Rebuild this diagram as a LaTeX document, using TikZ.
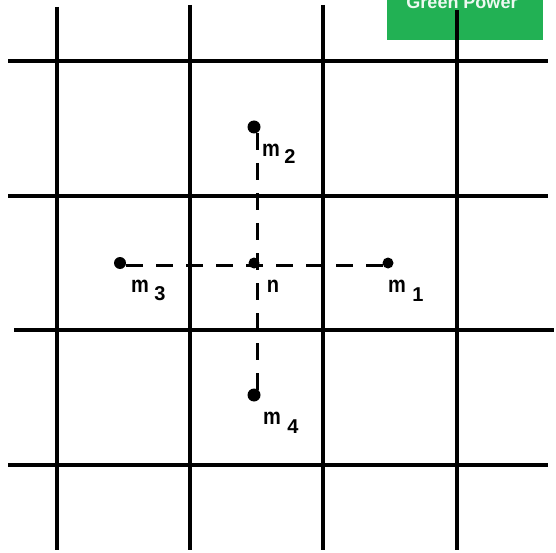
\documentclass[tikz,border=0pt]{standalone}
\usepackage{fontspec}
\setmainfont{Liberation Sans}
\definecolor{gp}{RGB}{34,177,84}
\begin{document}
\begin{tikzpicture}[x=1pt,y=-1pt,
  grid/.style={line width=3.6pt},
  dashline/.style={line width=3pt,dash pattern=on 17pt off 13pt},
  pt/.style={circle,fill=black,inner sep=0pt,minimum size=#1},
  lbl/.style={inner sep=0pt,font=\fontsize{20}{20}\selectfont\bfseries},
  sub/.style={inner sep=0pt,font=\fontsize{20}{20}\selectfont\bfseries}]
\useasboundingbox (0,0) rectangle (556,553);
% banner
\fill[gp] (387,0) rectangle (543,40);
\node[inner sep=0pt,text=white!92!gp,font=\fontsize{18}{18}\selectfont\bfseries] (banner) at (462,2) {Green Power};
% grid
\coordinate (v1t) at (57,7);   \coordinate (v1b) at (57,550);
\coordinate (v2t) at (190,5);  \coordinate (v2b) at (190,550);
\coordinate (v3t) at (323,5);  \coordinate (v3b) at (323,550);
\coordinate (v4t) at (457,10); \coordinate (v4b) at (457,550);
\coordinate (h1l) at (8,61);   \coordinate (h1r) at (548,61);
\coordinate (h2l) at (8,196);  \coordinate (h2r) at (548,196);
\coordinate (h3l) at (14,330); \coordinate (h3r) at (554,330);
\coordinate (h4l) at (8,465);  \coordinate (h4r) at (548,465);
\draw[grid] (v1t) -- (v1b);
\draw[grid] (v2t) -- (v2b);
\draw[grid] (v3t) -- (v3b);
\draw[grid] (v4t) -- (v4b);
\draw[grid] (h1l) -- (h1r);
\draw[grid] (h2l) -- (h2r);
\draw[grid] (h3l) -- (h3r);
\draw[grid] (h4l) -- (h4r);
% points
\node[pt=13pt] (m2) at (254,127) {};
\node[pt=11pt] (n) at (254,263) {};
\node[pt=12pt] (m3) at (120,263) {};
\node[pt=11pt] (m1) at (388,263) {};
\node[pt=13pt] (m4) at (254,395) {};
\coordinate (vtop) at (257,133);
\coordinate (vbot) at (257,397);
\coordinate (hl) at (126,265);
\coordinate (hr) at (386,265);
\draw[dashline] (vtop) -- (vbot);
\draw[dashline] (hl) -- (hr);
% labels
\node[lbl,yscale=1.15] (l2) at (271,150) {m};
\node[sub] (s2) at (290,157) {2};
\node[lbl,yscale=1.15] (l3) at (140,286) {m};
\node[sub] (s3) at (160,294) {3};
\node[lbl,yscale=1.15] (ln) at (273,286) {n};
\node[lbl,yscale=1.15] (l1) at (397,286) {m};
\node[sub] (s1) at (418,295) {1};
\node[lbl,yscale=1.15] (l4) at (272,418) {m};
\node[sub] (s4) at (293,427) {4};
\end{tikzpicture}
\end{document}
